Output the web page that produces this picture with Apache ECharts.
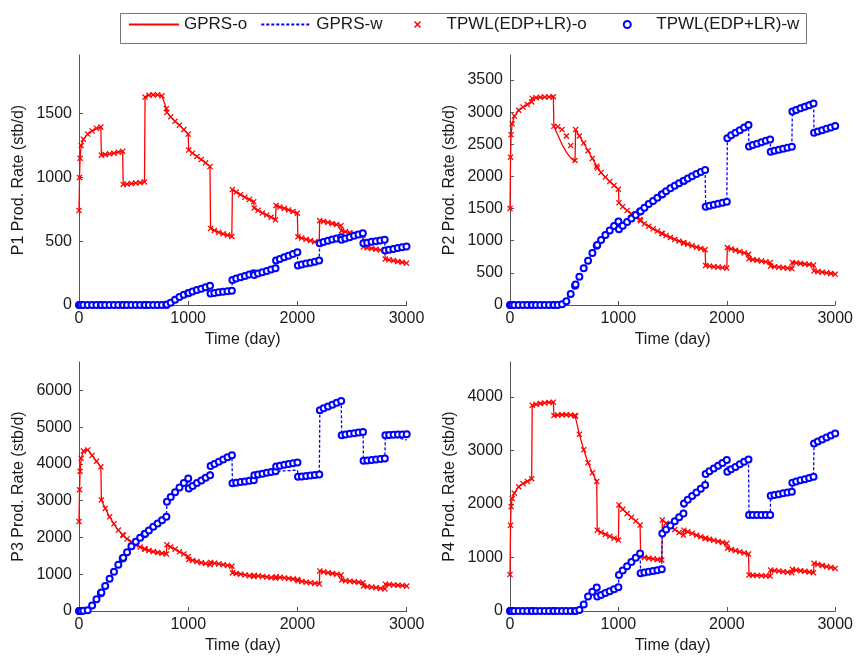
<!DOCTYPE html>
<html>
<head>
<meta charset="utf-8">
<script src="https://cdn.jsdelivr.net/npm/echarts@6/dist/echarts.min.js"></script>
<style>
html,body{margin:0;padding:0;background:#fff;}
#chart{width:856px;height:657px;}
</style>
</head>
<body>
<div id="chart"></div>
<script>
// Time grid (days)
const T = [0,5,10,20,40,80,120,160,200,
205,240,280,320,360,400,
405,440,480,520,560,600,
605,640,680,720,760,800,
805,840,880,920,960,1000,
1005,1040,1080,1120,1160,1200,
1205,1240,1280,1320,1360,1400,
1405,1440,1480,1520,1560,1600,
1605,1640,1680,1720,1760,1800,
1805,1840,1880,1920,1960,2000,
2005,2040,2080,2120,2160,2200,
2205,2240,2280,2320,2360,2400,
2405,2440,2480,2520,2560,2600,
2605,2640,2680,2720,2760,2800,
2805,2840,2880,2920,2960,3000];

// ---------- P1 ----------
const gprsO1 = [740,1000,1150,1250,1300,1340,1365,1385,1395,
1175,1180,1185,1190,1198,1205,
945,948,952,956,960,965,
1630,1645,1648,1648,1640,1540,
1510,1475,1440,1410,1375,1340,
1215,1190,1165,1140,1115,1085,
600,585,570,558,548,537,
905,885,865,845,828,810,
760,742,722,705,688,668,
780,768,757,745,733,720,
535,525,515,505,495,485,
662,655,647,639,631,622,
582,575,567,559,552,545,
455,449,443,437,431,425,
360,354,348,341,335,328];
const gprsW1 = [0,0,0,0,0,0,0,0,0,
0,0,0,0,0,0,
0,0,0,0,0,0,
0,0,0,0,0,0,
3,18,42,63,80,92,
95,106,117,128,139,150,
90,95,99,103,108,112,
196,207,218,228,239,249,
236,246,257,267,278,288,
348,361,374,387,400,414,
309,317,325,332,340,348,
484,494,503,513,522,532,
511,521,532,542,553,563,
484,489,495,500,506,511,
427,433,439,446,452,458];
const tpwlO1 = [740,1000,1150,1250,1300,1340,1365,1385,1395,
1175,1180,1185,1190,1198,1205,
945,948,952,956,960,965,
1630,1645,1648,1648,1640,1540,
1510,1475,1440,1410,1375,1340,
1215,1190,1165,1140,1115,1085,
600,585,570,558,548,537,
905,885,865,845,828,810,
760,742,722,705,688,668,
780,768,757,745,733,720,
535,525,515,505,495,485,
662,655,647,639,631,622,
582,575,567,559,552,545,
455,449,443,437,431,425,
360,354,348,341,335,328];
const tpwlW1 = [0,0,0,0,0,0,0,0,0,
0,0,0,0,0,0,
0,0,0,0,0,0,
0,0,0,0,0,0,
3,18,42,63,80,92,
95,106,117,128,139,150,
90,95,99,103,108,112,
196,207,218,228,239,249,
236,246,257,267,278,288,
348,361,374,387,400,414,
309,317,325,332,340,348,
484,494,503,513,522,532,
511,521,532,542,553,563,
484,489,495,500,506,511,
427,433,439,446,452,458];

// ---------- P2 ----------
const gprsO2 = [1500,2300,2650,2820,2940,3030,3080,3120,3160,
3215,3225,3232,3236,3238,3240,
2780,2650,2500,2380,2290,2230,
2730,2630,2520,2400,2280,2160,
2130,2060,1990,1920,1860,1800,
1590,1530,1470,1420,1370,1330,
1310,1265,1225,1185,1150,1115,
1110,1080,1050,1020,995,970,
965,945,920,900,880,860,
615,605,597,590,582,575,
895,873,852,832,811,790,
720,708,696,684,672,660,
605,597,589,581,573,565,
662,654,646,638,630,622,
530,520,510,500,490,480];
const gprsW2 = [0,0,0,0,0,0,0,0,0,
0,0,0,0,0,0,
0,5,30,90,190,310,
320,440,570,690,810,920,
935,1010,1090,1160,1230,1300,
1180,1235,1290,1345,1400,1455,
1460,1515,1570,1620,1670,1720,
1725,1770,1815,1855,1895,1930,
1935,1970,2005,2040,2070,2100,
1530,1545,1560,1575,1590,1605,
2595,2640,2680,2720,2760,2800,
2465,2488,2510,2532,2555,2577,
2385,2400,2415,2432,2448,2463,
3060,3085,3110,3135,3160,3185,
2680,2700,2720,2742,2763,2784];
const tpwlO2 = [1500,2300,2650,2820,2940,3030,3080,3120,3160,
3215,3225,3232,3236,3238,3240,
2780,2775,2730,2630,2480,2250,
2730,2630,2520,2400,2280,2160,
2130,2060,1990,1920,1860,1800,
1590,1530,1470,1420,1370,1330,
1310,1265,1225,1185,1150,1115,
1110,1080,1050,1020,995,970,
965,945,920,900,880,860,
615,605,597,590,582,575,
895,873,852,832,811,790,
720,708,696,684,672,660,
605,597,589,581,573,565,
662,654,646,638,630,622,
530,520,510,500,490,480];
const tpwlW2 = [0,0,0,0,0,0,0,0,0,
0,0,0,0,0,0,
0,0,10,60,170,300,
320,440,570,690,810,920,
935,1010,1090,1160,1230,1300,
1180,1235,1290,1345,1400,1455,
1460,1515,1570,1620,1670,1720,
1725,1770,1815,1855,1895,1930,
1935,1970,2005,2040,2070,2100,
1530,1545,1560,1575,1590,1605,
2595,2640,2680,2720,2760,2800,
2465,2488,2510,2532,2555,2577,
2385,2400,2415,2432,2448,2463,
3010,3035,3060,3085,3110,3137,
2680,2700,2720,2742,2763,2784];

// ---------- P3 ----------
const gprsO3 = [2430,3300,3800,4150,4350,4380,4230,4070,3920,
3020,2790,2560,2370,2200,2070,
2050,1960,1880,1800,1740,1690,
1680,1645,1615,1590,1570,1550,
1800,1740,1680,1610,1550,1480,
1400,1375,1345,1315,1290,1260,
1320,1300,1280,1260,1240,1220,
1040,1020,1000,980,960,940,
970,955,940,925,910,895,
930,915,900,885,870,855,
825,805,785,765,750,735,
1090,1065,1040,1020,1000,980,
840,825,810,795,782,770,
680,665,650,635,615,600,
730,720,710,700,690,680];
const gprsW3 = [0,0,0,0,5,20,150,320,480,
500,680,880,1070,1260,1430,
1450,1600,1760,1880,1990,2090,
2100,2190,2290,2380,2470,2560,
2970,3100,3230,3360,3480,3600,
3330,3400,3480,3550,3620,3690,
3940,4000,4060,4120,4180,4235,
3470,3488,3506,3524,3540,3557,
3680,3690,3700,3715,3730,3750,
3800,3806,3812,3818,3824,3830,
3647,3660,3672,3685,3697,3710,
5460,5510,5560,5610,5660,5710,
4780,4798,4816,4833,4851,4869,
4082,4095,4107,4120,4132,4145,
4770,4760,4740,4710,4680,4650];
const tpwlO3 = [2430,3300,3800,4150,4350,4380,4230,4070,3920,
3020,2790,2560,2370,2200,2070,
2050,1960,1880,1800,1740,1690,
1680,1645,1615,1590,1570,1550,
1800,1740,1680,1610,1550,1480,
1400,1375,1345,1315,1290,1260,
1320,1300,1280,1260,1240,1220,
1040,1020,1000,980,960,940,
970,955,940,925,910,895,
930,915,900,885,870,855,
825,805,785,765,750,735,
1090,1065,1040,1020,1000,980,
840,825,810,795,782,770,
680,665,650,635,615,600,
730,720,710,700,690,680];
const tpwlW3 = [0,0,0,0,5,20,150,320,480,
500,680,880,1070,1260,1430,
1450,1600,1760,1880,1990,2090,
2100,2190,2290,2380,2470,2560,
2970,3100,3230,3360,3480,3600,
3330,3400,3480,3550,3620,3690,
3940,4000,4060,4120,4180,4235,
3470,3488,3506,3524,3540,3557,
3690,3712,3734,3756,3778,3800,
3930,3952,3974,3996,4018,4040,
3647,3660,3672,3685,3697,3710,
5460,5510,5560,5610,5660,5710,
4780,4798,4816,4833,4851,4869,
4082,4095,4107,4120,4132,4145,
4780,4786,4792,4797,4802,4806];

// ---------- P4 ----------
const gprsO4 = [680,1600,1950,2100,2200,2320,2380,2420,2470,
3840,3860,3875,3885,3895,3900,
3650,3660,3665,3665,3660,3650,
3640,3300,3010,2770,2580,2420,
1510,1470,1430,1395,1360,1325,
1980,1900,1820,1750,1680,1605,
1015,1000,985,975,962,952,
1700,1640,1580,1520,1465,1418,
1510,1480,1450,1415,1385,1356,
1360,1340,1320,1300,1280,1263,
1170,1150,1128,1106,1085,1064,
672,668,664,660,657,653,
765,755,745,735,725,715,
778,765,752,740,728,715,
890,870,850,830,813,796];
const gprsW4 = [0,0,0,0,0,0,0,0,0,
0,0,0,0,0,0,
0,0,0,0,0,0,
0,20,120,270,360,440,
270,300,335,370,405,442,
672,755,835,915,995,1076,
703,718,733,748,763,778,
1449,1524,1599,1674,1749,1823,
2009,2078,2147,2215,2284,2352,
2557,2610,2662,2714,2766,2818,
2600,2645,2690,2740,2785,2831,
1792,1792,1792,1792,1792,1792,
2152,2167,2182,2197,2212,2227,
2395,2417,2440,2462,2485,2507,
3129,3166,3204,3241,3279,3316];
const tpwlO4 = [680,1600,1950,2100,2200,2320,2380,2420,2470,
3840,3860,3875,3885,3895,3900,
3650,3660,3665,3665,3660,3650,
3640,3300,3010,2770,2580,2420,
1510,1470,1430,1395,1360,1325,
1980,1900,1820,1750,1680,1605,
1015,1000,985,975,962,952,
1700,1640,1580,1520,1465,1418,
1510,1480,1450,1415,1385,1356,
1360,1340,1320,1300,1280,1263,
1170,1150,1128,1106,1085,1064,
672,668,664,660,657,653,
765,755,745,735,725,715,
778,765,752,740,728,715,
890,870,850,830,813,796];
const tpwlW4 = [0,0,0,0,0,0,0,0,0,
0,0,0,0,0,0,
0,0,0,0,0,0,
0,20,120,270,360,440,
270,300,335,370,405,442,
672,755,835,915,995,1076,
703,718,733,748,763,778,
1449,1524,1599,1674,1749,1823,
2009,2078,2147,2215,2284,2352,
2557,2610,2662,2714,2766,2818,
2600,2645,2690,2740,2785,2831,
1792,1792,1792,1792,1792,1792,
2152,2167,2182,2197,2212,2227,
2395,2417,2440,2462,2485,2507,
3129,3166,3204,3241,3279,3316];

// axis ticks / labels
const xTicks = [0,1000,2000,3000];
const yTicks1 = [0,500,1000,1500];
const yTicks2 = [0,500,1000,1500,2000,2500,3000,3500];
const yTicks3 = [0,1000,2000,3000,4000,5000,6000];
const yTicks4 = [0,1000,2000,3000,4000];
const yMax = [1960,3890,6770,4650];
const yInterval = [500,500,1000,1000];
const yNames = ['P1 Prod. Rate (stb/d)','P2 Prod. Rate (stb/d)','P3 Prod. Rate (stb/d)','P4 Prod. Rate (stb/d)'];
const xName = 'Time (day)';
const seriesNames = ['GPRS-o','GPRS-w','TPWL(EDP+LR)-o','TPWL(EDP+LR)-w'];

const panels = [
  {gO:gprsO1, gW:gprsW1, tO:tpwlO1, tW:tpwlW1, yt:yTicks1},
  {gO:gprsO2, gW:gprsW2, tO:tpwlO2, tW:tpwlW2, yt:yTicks2},
  {gO:gprsO3, gW:gprsW3, tO:tpwlO3, tW:tpwlW3, yt:yTicks3},
  {gO:gprsO4, gW:gprsW4, tO:tpwlO4, tW:tpwlW4, yt:yTicks4}
];

const FONT = '"Liberation Sans", Arial, Helvetica, sans-serif';
const TXT = '#1a1a1a';
const AX = '#555555';
const RED = '#ff0000';
const BLUE = '#0000ff';
const XSYM = 'path://M1.5,0L5,3.5L8.5,0L10,1.5L6.5,5L10,8.5L8.5,10L5,6.5L1.5,10L0,8.5L3.5,5L0,1.5Z';

const gridsPos = [
  {left:79, top:55, width:327.5, height:250},
  {left:510, top:55, width:328.3, height:250},
  {left:79, top:362, width:327.7, height:249},
  {left:510, top:362, width:328.3, height:249}
];

function zip(xs, ys){ return xs.map((x,i)=>[x, ys[i]]); }
const plain = v => String(v);

const grid = [], xAxis = [], yAxis = [], series = [];
panels.forEach((p, i) => {
  grid.push(Object.assign({containLabel:false}, gridsPos[i]));
  xAxis.push({
    type:'value', gridIndex:i, min:0, max:3000, interval:1000,
    name:xName, nameLocation:'middle', nameGap:27,
    nameTextStyle:{fontFamily:FONT, fontSize:16, color:TXT},
    axisLine:{show:true, onZero:false, lineStyle:{color:AX, width:1}},
    axisTick:{show:true, inside:true, length:4, customValues:xTicks, lineStyle:{color:AX}},
    axisLabel:{show:true, margin:6, customValues:xTicks, formatter:plain, fontFamily:FONT, fontSize:16, color:TXT},
    splitLine:{show:false}
  });
  yAxis.push({
    type:'value', gridIndex:i, min:0, max:yMax[i], interval:yInterval[i],
    name:yNames[i], nameLocation:'middle', nameGap:52, nameRotate:90,
    nameTextStyle:{fontFamily:FONT, fontSize:16, color:TXT},
    axisLine:{show:true, onZero:false, lineStyle:{color:AX, width:1}},
    axisTick:{show:true, inside:true, length:4, customValues:p.yt, lineStyle:{color:AX}},
    axisLabel:{show:true, margin:7, customValues:p.yt, formatter:plain, fontFamily:FONT, fontSize:16, color:TXT},
    splitLine:{show:false}
  });
  series.push({
    type:'line', name:seriesNames[0], xAxisIndex:i, yAxisIndex:i,
    data:zip(T, p.gO), symbol:'none', showSymbol:false,
    lineStyle:{color:RED, width:1.3}, itemStyle:{color:RED}, z:2
  });
  series.push({
    type:'line', name:seriesNames[1], xAxisIndex:i, yAxisIndex:i,
    data:zip(T, p.gW), symbol:'none', showSymbol:false,
    lineStyle:{color:BLUE, width:1.3, type:[3,2]}, itemStyle:{color:BLUE}, z:2
  });
  series.push({
    type:'scatter', name:seriesNames[2], xAxisIndex:i, yAxisIndex:i,
    data:zip(T, p.tO), symbol:XSYM, symbolSize:6,
    itemStyle:{color:RED, opacity:1}, z:3
  });
  series.push({
    type:'scatter', name:seriesNames[3], xAxisIndex:i, yAxisIndex:i,
    data:zip(T, p.tW), symbol:'emptyCircle', symbolSize:6,
    itemStyle:{color:BLUE, borderColor:BLUE, borderWidth:1.5, opacity:1}, z:4
  });
});

const legendText = {fontFamily:FONT, fontSize:17, color:TXT};
const chart = echarts.init(document.getElementById('chart'), null, {renderer:'canvas', width:856, height:657});
chart.setOption({
  backgroundColor:'#ffffff',
  animation:false,
  graphic:[{
    type:'rect', left:118, top:11, z:100,
    shape:{x:0, y:0, width:686, height:30},
    style:{fill:'none', stroke:'#777777', lineWidth:1}
  }],
  legend:[
    {
      data:[
        {name:seriesNames[0], itemStyle:{opacity:0}},
        {name:seriesNames[1], itemStyle:{opacity:0}}
      ],
      left:128, top:16, padding:0,
      orient:'horizontal',
      itemWidth:50, itemHeight:7, itemGap:13,
      textStyle:legendText, selectedMode:false
    },
    {
      data:[{name:seriesNames[2]}, {name:seriesNames[3]}],
      left:414, top:16, padding:0,
      orient:'horizontal',
      itemWidth:48, itemHeight:7, itemGap:36,
      textStyle:legendText, selectedMode:false
    }
  ],
  grid, xAxis, yAxis, series
});
</script>
</body>
</html>
